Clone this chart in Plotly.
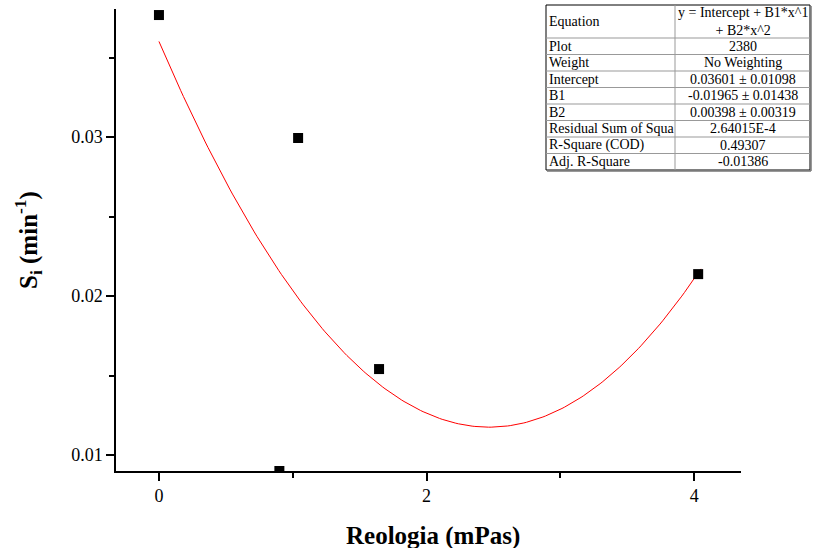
import numpy as np
import plotly.graph_objects as go

# Data points
x_data = [0.0, 1.04, 0.90, 1.645, 4.03]
y_data = [0.03767, 0.02994, 0.0090, 0.01541, 0.02138]

# Polynomial fit coefficients (from the fit table)
intercept = 0.03601
b1 = -0.01965
b2 = 0.00398
fit_x_range = [0.0, 4.05]

# Fit table
table_labels = ["Equation", "Plot", "Weight", "Intercept", "B1", "B2",
                "Residual Sum of Squa", "R-Square (COD)", "Adj. R-Square"]
table_values = ["y = Intercept + B1*x^1<br>+ B2*x^2", "2380", "No Weighting",
                "0.03601 ± 0.01098", "-0.01965 ± 0.01438", "0.00398 ± 0.00319",
                "2.64015E-4", "0.49307", "-0.01386"]

x_ticks = [0, 2, 4]
y_ticks = [0.01, 0.02, 0.03]

W, H = 814, 548
L, R, T, B = 116, 741, 9, 471

fx = np.linspace(fit_x_range[0], fit_x_range[1], 200)
fy = intercept + b1 * fx + b2 * fx ** 2

fig = go.Figure()
fig.add_trace(go.Scatter(x=fx, y=fy, mode="lines",
                         line=dict(color="#ff0000", width=1), showlegend=False,
                         hoverinfo="skip"))
fig.add_trace(go.Scatter(x=x_data, y=y_data, mode="markers",
                         marker=dict(symbol="square", size=10, color="black"),
                         showlegend=False, cliponaxis=True))

font_family = "Times New Roman, Liberation Serif, serif"

fig.update_layout(
    width=W, height=H,
    margin=dict(l=L, r=W - R, t=T, b=H - B),
    plot_bgcolor="white", paper_bgcolor="white",
    font=dict(family=font_family, color="black"),
    xaxis=dict(range=[-0.321, 4.35], tickvals=x_ticks, ticktext=[str(v) for v in x_ticks],
               automargin=False,
               ticks="outside", ticklen=8, tickwidth=1.5, tickcolor="black",
               showline=True, linewidth=1.5, linecolor="black", mirror=False,
               showgrid=False, zeroline=False,
               tickfont=dict(size=18, family=font_family),
               minor=dict(ticks="outside", tickvals=[1, 3], ticklen=5, tickwidth=1.5, tickcolor="black", showgrid=False)),
    yaxis=dict(range=[0.009, 0.03805], tickvals=y_ticks, ticktext=["%.2f" % v for v in y_ticks],
               automargin=False,
               ticks="outside", ticklen=8, tickwidth=1.5, tickcolor="black",
               showline=True, linewidth=1.5, linecolor="black", mirror=False,
               showgrid=False, zeroline=False,
               tickfont=dict(size=18, family=font_family),
               minor=dict(ticks="outside", tickvals=[0.015, 0.025, 0.035], ticklen=5, tickwidth=1.5, tickcolor="black", showgrid=False)),
)

def px2paper_x(px):
    return (px - L) / (R - L)

def px2paper_y(py):
    return (B - py) / (B - T)

# Table geometry (pixels)
tx0, tx1, tx2 = 546, 675, 810
row_h = 16.5
ys = [5, 38] + [38 + row_h * (i + 1) for i in range(8)]

shapes = []
shapes.append(dict(type="rect", xref="paper", yref="paper",
                   x0=px2paper_x(tx0), x1=px2paper_x(tx2),
                   y0=px2paper_y(ys[-1]), y1=px2paper_y(ys[0]),
                   line=dict(color="black", width=1), fillcolor="white", layer="above"))
for yy in ys[1:-1]:
    shapes.append(dict(type="line", xref="paper", yref="paper",
                       x0=px2paper_x(tx0), x1=px2paper_x(tx2),
                       y0=px2paper_y(yy), y1=px2paper_y(yy),
                       line=dict(color="#999999", width=1), layer="above"))
shapes.append(dict(type="line", xref="paper", yref="paper",
                   x0=px2paper_x(tx1), x1=px2paper_x(tx1),
                   y0=px2paper_y(ys[-1]), y1=px2paper_y(ys[0]),
                   line=dict(color="#999999", width=1), layer="above"))
shapes.append(dict(type="line", xref="paper", yref="paper",
                   x0=px2paper_x(tx0 + 1), x1=px2paper_x(tx2 + 1),
                   y0=px2paper_y(ys[-1] + 1), y1=px2paper_y(ys[-1] + 1),
                   line=dict(color="#777777", width=1.5), layer="above"))
shapes.append(dict(type="line", xref="paper", yref="paper",
                   x0=px2paper_x(tx2 + 1), x1=px2paper_x(tx2 + 1),
                   y0=px2paper_y(ys[-1] + 1), y1=px2paper_y(ys[0] + 1),
                   line=dict(color="#777777", width=1.5), layer="above"))

annotations = []
for i, (lab, val) in enumerate(zip(table_labels, table_values)):
    yc = (ys[i] + ys[i + 1]) / 2
    annotations.append(dict(xref="paper", yref="paper", x=px2paper_x(tx0 + 1), y=px2paper_y(yc),
                            text=lab, showarrow=False, xanchor="left", yanchor="middle",
                            font=dict(size=14, family=font_family, color="black")))
    annotations.append(dict(xref="paper", yref="paper", x=px2paper_x((tx1 + tx2) / 2), y=px2paper_y(yc),
                            text=val, showarrow=False, xanchor="center", yanchor="middle",
                            font=dict(size=14, family=font_family, color="black")))

# Axis titles
annotations.append(dict(xref="paper", yref="paper", x=px2paper_x(433), y=px2paper_y(536),
                        text="<b>Reologia (mPas)</b>", showarrow=False, xanchor="center", yanchor="middle",
                        font=dict(size=25, family=font_family, color="black")))
annotations.append(dict(xref="paper", yref="paper", x=px2paper_x(28), y=px2paper_y(240),
                        text="<b>S<sub>i</sub> (min<sup>-1</sup>)</b>", showarrow=False, textangle=-90,
                        xanchor="center", yanchor="middle",
                        font=dict(size=25, family=font_family, color="black")))

fig.update_layout(shapes=shapes, annotations=annotations)
fig.write_html("out.html")
